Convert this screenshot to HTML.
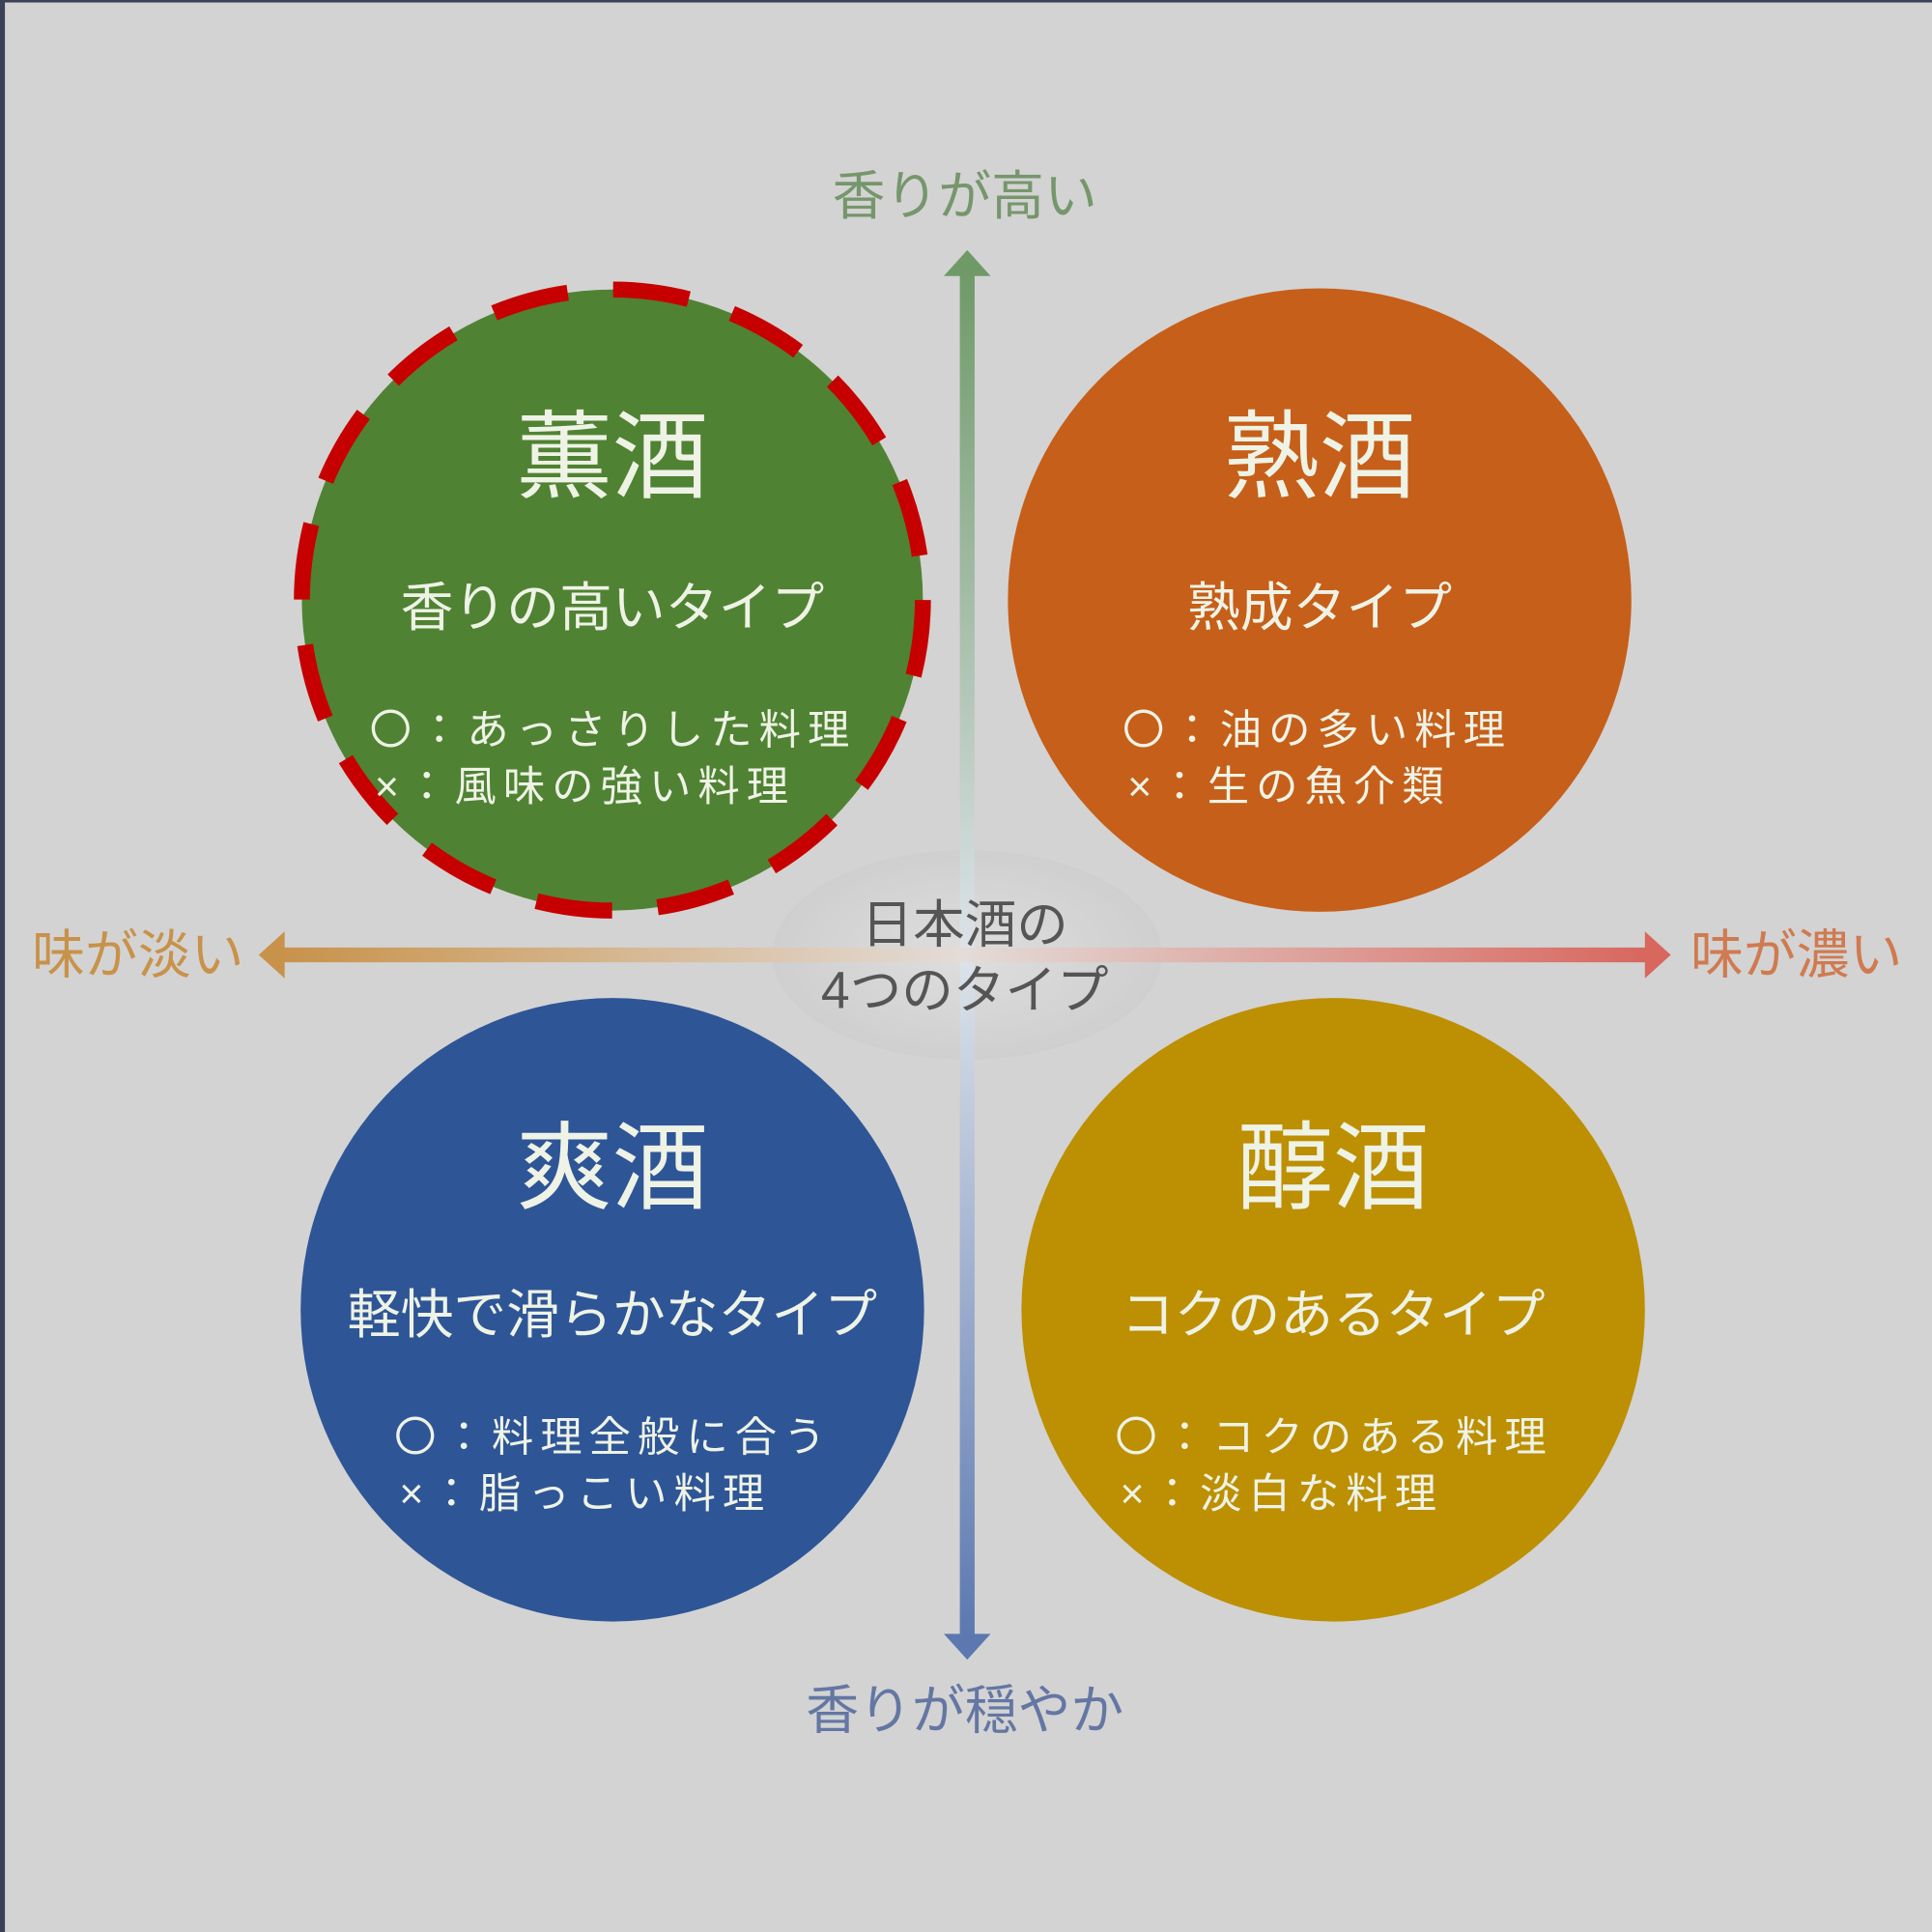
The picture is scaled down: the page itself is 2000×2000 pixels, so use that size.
<!DOCTYPE html>
<html><head><meta charset="utf-8"><style>
html,body{margin:0;padding:0;background:#d3d3d3;}
svg{display:block}
text{font-family:"Liberation Sans","Noto Sans CJK JP",sans-serif;}
</style></head><body>
<svg width="2000" height="2000" viewBox="0 0 1568 1568" xmlns="http://www.w3.org/2000/svg">
<defs>
<linearGradient id="gv" x1="0" y1="0" x2="0" y2="1">
<stop offset="0" stop-color="#6f9a68"/><stop offset="0.5" stop-color="#dde3ea"/><stop offset="1" stop-color="#5b78b0"/>
</linearGradient>
<linearGradient id="gh" x1="0" y1="0" x2="1" y2="0">
<stop offset="0" stop-color="#c8924a"/><stop offset="0.5" stop-color="#e3dcd8"/><stop offset="1" stop-color="#d8675e"/>
</linearGradient>
<radialGradient id="ce"><stop offset="0" stop-color="#dedede"/><stop offset="1" stop-color="#cfcfcf"/></radialGradient>
</defs>
<rect width="1568" height="1568" fill="#d3d3d3"/>
<rect x="0" y="0" width="4" height="1568" fill="#3c4256"/>
<rect x="0" y="0" width="1568" height="2" fill="#3c4256"/>
<ellipse cx="785" cy="775" rx="158" ry="85" fill="url(#ce)"/>
<rect x="779" y="222" width="12" height="1106" fill="url(#gv)"/>
<polygon points="785,203 766,224 804,224" fill="#6f9a68"/>
<polygon points="785,1347 766,1326 804,1326" fill="#5b78b0"/>
<rect x="228" y="769" width="1108" height="12" fill="url(#gh)"/>
<polygon points="210,775 231,756 231,794" fill="#c8924a"/>
<polygon points="1356,775 1335,756 1335,794" fill="#d8675e"/>
<circle cx="497" cy="487" r="252" fill="#508233"/>
<circle cx="497" cy="487" r="252" fill="none" stroke="#c60000" stroke-width="13" stroke-dasharray="62 37"/>
<circle cx="1071" cy="487" r="253" fill="#c65f19"/>
<circle cx="497" cy="1063" r="253" fill="#2e5596"/>
<circle cx="1082" cy="1063" r="253" fill="#bd8f02"/>
<g fill="#eef3e6" text-anchor="middle">
<text x="497" y="398" font-size="78">薫酒</text>
<text x="497" y="508" font-size="43">香りの高いタイプ</text>
<text x="300" y="604" font-size="34" text-anchor="start" letter-spacing="5.5">〇：あっさりした料理</text>
<text x="304" y="650" font-size="34" text-anchor="start" letter-spacing="5.5">×：風味の強い料理</text>
<text x="1071" y="398" font-size="78">熟酒</text>
<text x="1071" y="508" font-size="43">熟成タイプ</text>
<text x="911" y="604" font-size="34" text-anchor="start" letter-spacing="5.5">〇：油の多い料理</text>
<text x="915" y="650" font-size="34" text-anchor="start" letter-spacing="5.5">×：生の魚介類</text>
<text x="497" y="975" font-size="78">爽酒</text>
<text x="497" y="1082" font-size="43">軽快で滑らかなタイプ</text>
<text x="320" y="1178" font-size="34" text-anchor="start" letter-spacing="5.5">〇：料理全般に合う</text>
<text x="324" y="1224" font-size="34" text-anchor="start" letter-spacing="5.5">×：脂っこい料理</text>
<text x="1082" y="975" font-size="78">醇酒</text>
<text x="1082" y="1082" font-size="43">コクのあるタイプ</text>
<text x="905" y="1178" font-size="34" text-anchor="start" letter-spacing="5.5">〇：コクのある料理</text>
<text x="909" y="1224" font-size="34" text-anchor="start" letter-spacing="5.5">×：淡白な料理</text>
</g>
<g text-anchor="middle" font-size="43">
<text x="783" y="174" fill="#76966c">香りが高い</text>
<text x="783" y="1403" fill="#6477a3">香りが穏やか</text>
<text x="112" y="790" fill="#c8924a">味が淡い</text>
<text x="1458" y="790" fill="#d07a50">味が濃い</text>
<text x="783" y="765" fill="#555" font-size="42">日本酒の</text>
<text x="783" y="818" fill="#555" font-size="42">4つのタイプ</text>
</g>
</svg>
</body></html>
